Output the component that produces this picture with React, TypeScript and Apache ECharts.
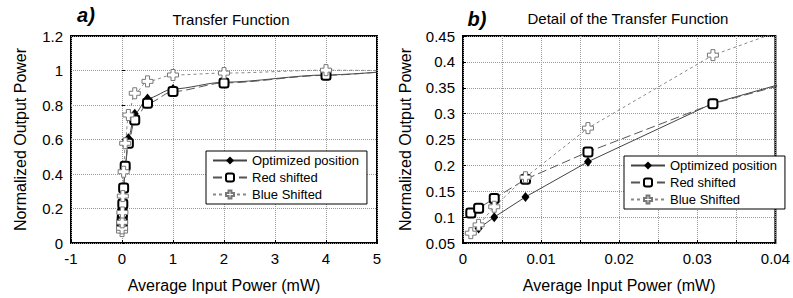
import React, { useEffect, useRef } from 'react';
import * as echarts from 'echarts';

const seriesNames = ['Optimized position', 'Red shifted', 'Blue Shifted'];
const inputPower = [0.001, 0.002, 0.004, 0.008, 0.016, 0.032, 0.0625, 0.125, 0.25, 0.5, 1, 2, 4];
const optimizedOut = [null, 0.078, 0.1, 0.139, 0.207, 0.32, 0.45, 0.607, 0.75, 0.838, 0.893, 0.932, 0.974];
const redOut = [0.108, 0.117, 0.136, 0.173, 0.226, 0.319, 0.445, 0.578, 0.713, 0.81, 0.878, 0.928, 0.972];
const blueOut = [0.069, 0.085, 0.12, 0.177, 0.272, 0.413, 0.578, 0.742, 0.868, 0.937, 0.974, 0.985, 1.002];
// fitted curves continue to the right edge of panel a) at x = 5 mW
const fitEdgeX = 5;
const fitEdgeValues = [0.99, 0.99, 1.0];

const leftXTicks = { min: -1, max: 5, interval: 1 };
const leftYTicks = { min: 0, max: 1.2, interval: 0.2 };
const rightXTicks = { min: 0, max: 0.04, interval: 0.005 };
const rightYTicks = { min: 0.05, max: 0.45, interval: 0.05 };

const FONT = '"Liberation Sans", Arial, sans-serif';
const CROSS = 'path://M3.2,0 H6.8 V3.2 H10 V6.8 H6.8 V10 H3.2 V6.8 H0 V3.2 H3.2 Z';

function pts(ys: (number | null)[], withEdge: number | null) {
  const d: any[] = [];
  inputPower.forEach((x, i) => {
    if (ys[i] !== null) d.push([x, ys[i]]);
  });
  if (withEdge !== null) d.push({ value: [fitEdgeX, withEdge], symbol: 'none' });
  return d;
}

const styles = [
  {
    symbol: 'diamond',
    symbolSize: [8, 10],
    itemStyle: { color: '#000', borderColor: '#000', borderWidth: 0 },
    lineStyle: { color: '#444', width: 1, type: 'solid' },
  },
  {
    symbol: 'roundRect',
    symbolSize: 9,
    itemStyle: { color: '#fff', borderColor: '#000', borderWidth: 2 },
    lineStyle: { color: '#555', width: 1, type: [9, 4] },
  },
  {
    symbol: CROSS,
    symbolSize: 11,
    itemStyle: { color: '#fff', borderColor: '#777', borderWidth: 1 },
    lineStyle: { color: '#888', width: 1, type: [3, 3] },
  },
];

function axisCommon(name: string, gap: number) {
  return {
    name,
    nameLocation: 'middle',
    nameGap: gap,
    nameTextStyle: { fontSize: 16, color: '#000', fontFamily: FONT },
    axisLine: { show: false },
    axisTick: { show: true, inside: true, length: 3, lineStyle: { color: '#000' } },
    axisLabel: { fontSize: 15, color: '#000', fontFamily: FONT },
    splitLine: { show: true, lineStyle: { color: '#999', type: 'dotted', width: 1 } },
  };
}

export default function App() {
  const ref = useRef<HTMLDivElement>(null);
  useEffect(() => {
    if (!ref.current) return;
    const chart = echarts.init(ref.current, undefined, { renderer: 'svg' });
    const values = [optimizedOut, redOut, blueOut];
    const series: any[] = [];
    values.forEach((ys, k) => {
      series.push({
        type: 'line',
        name: seriesNames[k],
        xAxisIndex: 0,
        yAxisIndex: 0,
        data: pts(ys, fitEdgeValues[k]),
        smooth: 0.3,
        smoothMonotone: 'x',
        clip: true,
        ...styles[k],
      });
      series.push({
        type: 'line',
        name: seriesNames[k],
        xAxisIndex: 1,
        yAxisIndex: 1,
        data: pts(ys, null),
        smooth: false,
        clip: true,
        ...styles[k],
      });
    });
    const legendCommon = {
      orient: 'vertical',
      backgroundColor: '#fff',
      borderColor: '#000',
      borderWidth: 1,
      borderRadius: 0,
      padding: [3, 8, 3, 6],
      itemGap: 4,
      itemWidth: 34,
      itemHeight: 10,
      selectedMode: false,
      textStyle: { fontSize: 13, color: '#000', fontFamily: FONT },
      data: seriesNames,
    };
    chart.setOption({
      animation: false,
      backgroundColor: '#fff',
      textStyle: { fontFamily: FONT },
      grid: [
        { left: 71, top: 36, width: 306, height: 207, show: true, borderColor: '#000', borderWidth: 2, backgroundColor: 'transparent', containLabel: false },
        { left: 463, top: 36, width: 314, height: 207, show: true, borderColor: '#000', borderWidth: 2, backgroundColor: 'transparent', containLabel: false },
      ],
      xAxis: [
        { type: 'value', gridIndex: 0, ...leftXTicks, ...axisCommon('Average Input Power (mW)', 34) },
        {
          type: 'value',
          gridIndex: 1,
          ...rightXTicks,
          ...axisCommon('Average Input Power (mW)', 34),
          axisLabel: {
            fontSize: 15,
            color: '#000',
            fontFamily: FONT,
            formatter: (v: number) => {
              const n = Math.round(v * 1000);
              return n % 10 === 0 ? String(n / 1000) : '';
            },
          },
        },
      ],
      yAxis: [
        { type: 'value', gridIndex: 0, ...leftYTicks, ...axisCommon('Normalized Output Power', 43) },
        { type: 'value', gridIndex: 1, ...rightYTicks, ...axisCommon('Normalized Output Power', 50) },
      ],
      legend: [
        { ...legendCommon, left: 206, top: 151 },
        { ...legendCommon, left: 624, top: 156 },
      ],
      graphic: [
        { type: 'text', x: 231, y: 19, style: { text: 'Transfer Function', font: `15px ${FONT}`, fill: '#000', textAlign: 'center', textVerticalAlign: 'middle' } },
        { type: 'text', x: 628, y: 18, style: { text: 'Detail of the Transfer Function', font: `15px ${FONT}`, fill: '#000', textAlign: 'center', textVerticalAlign: 'middle' } },
        { type: 'text', x: 86, y: 15, style: { text: 'a)', font: `italic bold 20px ${FONT}`, fill: '#000', textAlign: 'center', textVerticalAlign: 'middle' } },
        { type: 'text', x: 477, y: 19, style: { text: 'b)', font: `italic bold 20px ${FONT}`, fill: '#000', textAlign: 'center', textVerticalAlign: 'middle' } },
      ],
      series,
    });
    return () => chart.dispose();
  }, []);
  return <div ref={ref} style={{ position: 'fixed', left: 0, top: 0, width: 793, height: 298, background: '#fff' }} />;
}
